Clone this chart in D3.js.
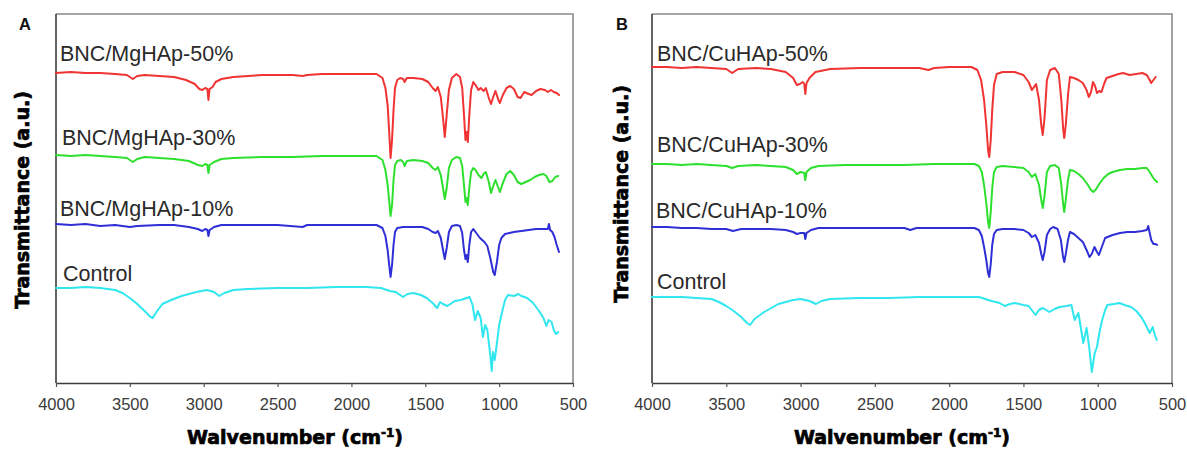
<!DOCTYPE html>
<html>
<head>
<meta charset="utf-8">
<script src="https://cdn.jsdelivr.net/npm/d3@7"></script>
<style>
  html, body { margin: 0; padding: 0; background: #fff; }
  svg { display: block; }
</style>
</head>
<body>
<svg id="chart" width="1187" height="453"></svg>
<script>
// FTIR spectra: [wavenumber (cm-1), transmittance (a.u., curves offset vertically)]
const xTicks = [4000, 3500, 3000, 2500, 2000, 1500, 1000, 500];

// ---- Panel A: BNC/MgHAp composites ----
const mg50 = [[4000,3.10],[3900,3.11],[3800,3.10],[3700,3.10],[3600,3.09],[3520,3.08],[3480,3.04],[3450,3.07],[3400,3.08],[3300,3.07],[3200,3.06],[3120,3.03],[3060,2.99],[3030,2.94],[3010,2.93],[2990,2.95],[2975,2.94],[2968,2.83],[2960,2.94],[2940,2.96],[2920,3.01],[2880,3.04],[2800,3.06],[2700,3.07],[2600,3.08],[2500,3.08],[2400,3.08],[2330,3.07],[2300,3.08],[2200,3.09],[2000,3.09],[1900,3.09],[1830,3.09],[1790,3.05],[1770,2.95],[1755,2.78],[1745,2.53],[1735,2.25],[1725,2.43],[1715,2.73],[1705,2.95],[1690,3.03],[1670,3.05],[1650,3.04],[1640,3.01],[1625,3.05],[1580,3.05],[1520,3.04],[1480,3.01],[1450,2.95],[1430,2.92],[1415,2.96],[1395,2.86],[1380,2.65],[1368,2.46],[1355,2.68],[1340,2.93],[1320,3.05],[1290,3.09],[1265,3.06],[1250,2.95],[1238,2.68],[1228,2.43],[1220,2.51],[1212,2.41],[1202,2.68],[1190,2.93],[1175,3.01],[1160,2.98],[1140,2.93],[1125,2.95],[1105,2.92],[1090,2.95],[1070,2.85],[1055,2.79],[1040,2.86],[1025,2.92],[1005,2.83],[995,2.80],[975,2.88],[950,2.95],[925,2.97],[900,2.94],[875,2.86],[855,2.85],[830,2.91],[800,2.89],[780,2.88],[750,2.92],[720,2.94],[690,2.93],[670,2.91],[650,2.93],[630,2.91],[610,2.90],[595,2.88]];

const mg30 = [[4000,2.28],[3900,2.27],[3800,2.28],[3700,2.27],[3600,2.26],[3520,2.25],[3480,2.21],[3450,2.24],[3400,2.26],[3300,2.25],[3200,2.24],[3100,2.22],[3040,2.18],[3010,2.17],[2990,2.19],[2975,2.18],[2968,2.10],[2960,2.18],[2930,2.21],[2880,2.24],[2800,2.25],[2600,2.26],[2400,2.26],[2200,2.27],[2000,2.27],[1830,2.27],[1790,2.23],[1770,2.13],[1755,1.98],[1745,1.83],[1735,1.67],[1725,1.78],[1715,2.03],[1705,2.18],[1690,2.22],[1665,2.23],[1650,2.21],[1640,2.17],[1625,2.22],[1580,2.23],[1520,2.22],[1480,2.20],[1450,2.15],[1430,2.13],[1415,2.16],[1395,2.08],[1380,1.95],[1368,1.84],[1355,1.95],[1340,2.15],[1320,2.23],[1290,2.26],[1265,2.25],[1250,2.17],[1238,1.98],[1228,1.81],[1220,1.85],[1212,1.78],[1202,1.95],[1190,2.11],[1175,2.15],[1160,2.13],[1140,2.08],[1120,2.05],[1105,2.09],[1090,2.11],[1070,2.01],[1055,1.90],[1040,1.97],[1025,2.03],[1005,1.95],[995,1.91],[975,2.00],[950,2.09],[925,2.12],[900,2.08],[875,2.01],[850,1.99],[820,2.01],[790,2.03],[760,2.06],[730,2.08],[700,2.09],[680,2.07],[660,2.01],[640,2.02],[620,2.06],[600,2.07]];

const mg10 = [[4000,1.59],[3900,1.58],[3800,1.59],[3700,1.57],[3600,1.58],[3500,1.56],[3450,1.57],[3300,1.58],[3200,1.58],[3100,1.56],[3040,1.54],[3010,1.52],[2990,1.54],[2975,1.53],[2968,1.47],[2960,1.53],[2930,1.56],[2880,1.58],[2700,1.58],[2500,1.58],[2330,1.56],[2300,1.58],[2000,1.58],[1830,1.58],[1790,1.55],[1770,1.47],[1755,1.33],[1745,1.19],[1735,1.06],[1725,1.18],[1715,1.38],[1705,1.51],[1690,1.55],[1650,1.56],[1580,1.56],[1520,1.56],[1480,1.54],[1450,1.51],[1430,1.50],[1415,1.52],[1395,1.45],[1380,1.33],[1368,1.24],[1355,1.35],[1340,1.51],[1320,1.57],[1290,1.58],[1265,1.57],[1250,1.50],[1238,1.33],[1228,1.24],[1220,1.28],[1212,1.21],[1202,1.38],[1190,1.51],[1175,1.54],[1160,1.51],[1130,1.45],[1100,1.41],[1080,1.37],[1060,1.25],[1040,1.11],[1030,1.08],[1015,1.21],[1000,1.38],[985,1.45],[960,1.49],[930,1.50],[900,1.51],[850,1.52],[800,1.53],[750,1.54],[700,1.54],[670,1.54],[663,1.59],[655,1.53],[640,1.51],[625,1.46],[610,1.38],[595,1.31]];

const controlA = [[4000,0.95],[3900,0.95],[3800,0.96],[3700,0.95],[3600,0.93],[3550,0.90],[3500,0.85],[3450,0.79],[3400,0.72],[3360,0.66],[3345,0.65],[3320,0.71],[3280,0.79],[3220,0.83],[3150,0.87],[3050,0.91],[2980,0.93],[2930,0.91],[2895,0.87],[2860,0.90],[2800,0.93],[2700,0.94],[2500,0.95],[2300,0.95],[2100,0.96],[1900,0.96],[1800,0.95],[1740,0.92],[1700,0.91],[1650,0.86],[1620,0.89],[1580,0.90],[1530,0.88],[1490,0.85],[1450,0.80],[1420,0.75],[1400,0.81],[1380,0.79],[1350,0.77],[1330,0.79],[1300,0.82],[1260,0.83],[1220,0.85],[1200,0.86],[1180,0.78],[1163,0.63],[1145,0.72],[1125,0.65],[1110,0.46],[1095,0.58],[1080,0.53],[1060,0.28],[1050,0.12],[1042,0.31],[1030,0.23],[1015,0.40],[1000,0.58],[980,0.71],[960,0.83],[940,0.88],[900,0.87],[870,0.89],[850,0.87],[810,0.85],[770,0.80],[730,0.72],[700,0.65],[680,0.57],[665,0.63],[645,0.61],[630,0.53],[615,0.49],[600,0.51]];

// ---- Panel B: BNC/CuHAp composites ----
const cu50 = [[4000,3.16],[3900,3.16],[3800,3.15],[3700,3.16],[3600,3.15],[3500,3.14],[3460,3.10],[3420,3.14],[3300,3.15],[3200,3.14],[3100,3.11],[3050,3.05],[3025,2.98],[3005,2.99],[2985,3.01],[2975,2.99],[2968,2.89],[2960,3.00],[2940,3.05],[2900,3.11],[2800,3.14],[2600,3.15],[2400,3.15],[2200,3.15],[2140,3.13],[2100,3.15],[2000,3.16],[1850,3.16],[1810,3.13],[1785,3.03],[1765,2.83],[1750,2.58],[1738,2.33],[1730,2.26],[1720,2.43],[1710,2.73],[1698,2.98],[1680,3.09],[1640,3.11],[1560,3.11],[1500,3.08],[1465,3.01],[1443,2.93],[1415,2.99],[1395,2.83],[1380,2.58],[1370,2.48],[1358,2.65],[1342,3.03],[1320,3.13],[1288,3.15],[1262,3.09],[1245,2.83],[1232,2.53],[1225,2.45],[1215,2.58],[1200,2.88],[1187,3.06],[1160,3.05],[1130,3.03],[1100,3.00],[1075,2.93],[1060,2.86],[1045,2.91],[1032,3.01],[1018,2.97],[1005,2.90],[990,2.92],[975,2.91],[955,3.00],[940,3.05],[900,3.07],[860,3.09],[830,3.10],[785,3.08],[740,3.09],[700,3.10],[670,3.08],[650,3.03],[640,3.00],[625,3.03],[610,3.06]];

const cu30 = [[4000,2.19],[3900,2.19],[3800,2.18],[3700,2.19],[3600,2.18],[3500,2.17],[3460,2.15],[3420,2.17],[3300,2.18],[3200,2.17],[3100,2.16],[3050,2.13],[3025,2.09],[3000,2.11],[2975,2.10],[2968,2.03],[2960,2.11],[2930,2.15],[2880,2.17],[2700,2.18],[2500,2.18],[2300,2.18],[2100,2.19],[1900,2.19],[1830,2.19],[1800,2.17],[1780,2.11],[1765,1.98],[1750,1.80],[1738,1.61],[1730,1.55],[1720,1.71],[1710,1.95],[1698,2.11],[1680,2.16],[1640,2.17],[1560,2.16],[1500,2.15],[1465,2.11],[1443,2.06],[1420,2.09],[1395,1.98],[1380,1.83],[1370,1.75],[1358,1.87],[1342,2.11],[1320,2.17],[1288,2.18],[1262,2.15],[1245,1.98],[1232,1.78],[1225,1.71],[1215,1.83],[1200,2.03],[1187,2.13],[1160,2.12],[1130,2.09],[1100,2.05],[1070,1.99],[1045,1.93],[1030,1.91],[1010,1.94],[990,1.99],[960,2.05],[930,2.09],[900,2.11],[850,2.13],[800,2.14],[750,2.14],[700,2.15],[670,2.15],[650,2.11],[630,2.06],[615,2.03],[600,2.01]];

const cu10 = [[4000,1.56],[3900,1.56],[3800,1.55],[3700,1.55],[3600,1.54],[3500,1.54],[3455,1.52],[3400,1.54],[3300,1.54],[3200,1.54],[3100,1.53],[3050,1.51],[3025,1.49],[3000,1.50],[2975,1.50],[2968,1.44],[2960,1.50],[2930,1.53],[2880,1.55],[2700,1.55],[2500,1.55],[2300,1.55],[2262,1.53],[2220,1.55],[2000,1.55],[1830,1.55],[1800,1.53],[1780,1.47],[1765,1.36],[1750,1.23],[1738,1.10],[1730,1.06],[1720,1.19],[1710,1.38],[1698,1.49],[1680,1.53],[1640,1.54],[1560,1.54],[1500,1.53],[1465,1.50],[1443,1.46],[1420,1.48],[1395,1.40],[1380,1.29],[1370,1.23],[1358,1.31],[1342,1.48],[1320,1.54],[1300,1.56],[1270,1.54],[1248,1.43],[1234,1.27],[1225,1.21],[1215,1.29],[1200,1.43],[1187,1.51],[1160,1.49],[1130,1.45],[1100,1.41],[1075,1.33],[1055,1.26],[1040,1.29],[1022,1.36],[1005,1.31],[992,1.28],[975,1.35],[950,1.45],[900,1.48],[850,1.50],[800,1.51],[750,1.51],[700,1.52],[670,1.53],[660,1.57],[650,1.50],[640,1.43],[625,1.39],[610,1.39],[600,1.38]];

const controlB = [[4000,0.86],[3900,0.86],[3800,0.86],[3700,0.85],[3600,0.84],[3550,0.81],[3500,0.77],[3450,0.72],[3400,0.66],[3360,0.60],[3340,0.58],[3310,0.64],[3245,0.71],[3150,0.79],[3050,0.83],[3000,0.84],[2940,0.82],[2896,0.79],[2860,0.82],[2800,0.84],[2600,0.85],[2400,0.85],[2200,0.86],[2000,0.86],[1800,0.86],[1714,0.82],[1660,0.80],[1626,0.77],[1590,0.79],[1558,0.80],[1500,0.78],[1465,0.77],[1418,0.68],[1395,0.73],[1370,0.75],[1325,0.71],[1290,0.74],[1257,0.76],[1210,0.77],[1177,0.78],[1155,0.63],[1130,0.70],[1097,0.40],[1075,0.55],[1055,0.33],[1040,0.11],[1020,0.30],[1005,0.36],[985,0.53],[970,0.63],[950,0.73],[935,0.78],[890,0.79],[855,0.80],[820,0.78],[775,0.76],[740,0.72],[707,0.66],[680,0.59],[650,0.50],[630,0.56],[615,0.48],[603,0.43]];

const seriesNamesA = ["BNC/MgHAp-50%", "BNC/MgHAp-30%", "BNC/MgHAp-10%", "Control"];
const seriesNamesB = ["BNC/CuHAp-50%", "BNC/CuHAp-30%", "BNC/CuHAp-10%", "Control"];
const seriesColors = ["#f03333", "#2ee02e", "#2f2fd6", "#30e6ef"];

// ---- layout ----
const svg = d3.select("#chart");
const frameTop = 14, frameBottom = 383;

const panels = [
  { letter: "A", left: 56, right: 573, letterX: 25, yLabelX: 22, yLabelY: 200, xLabelX: 295,
    series: [mg50, mg30, mg10, controlA], names: seriesNamesA,
    labelX: [60, 62, 60, 63], labelY: [61, 145, 216, 281] },
  { letter: "B", left: 652, right: 1172, letterX: 622, yLabelX: 621, yLabelY: 194, xLabelX: 902,
    series: [cu50, cu30, cu10, controlB], names: seriesNamesB,
    labelX: [657, 657, 656, 657], labelY: [61, 152, 218, 289] }
];

panels.forEach(p => {
  const g = svg.append("g");
  const x = d3.scaleLinear().domain([4000, 500]).range([p.left, p.right]);
  const y = d3.scaleLinear().domain([0, 3.69]).range([frameBottom, frameTop]);

  // frame: lighter top/right edges
  g.append("path")
    .attr("d", `M${p.left},${frameTop}H${p.right}V${frameBottom}`)
    .attr("fill", "none").attr("stroke", "#8a8a8a").attr("stroke-width", 1.6);
  g.append("line")
    .attr("x1", p.left).attr("x2", p.left).attr("y1", frameTop).attr("y2", frameBottom)
    .attr("stroke", "#3c3c3c").attr("stroke-width", 1.6);

  // bottom axis
  const axis = d3.axisBottom(x).tickValues(xTicks).tickSize(4).tickSizeOuter(0).tickFormat(d3.format("d"));
  const ax = g.append("g").attr("transform", `translate(0,${frameBottom})`).call(axis);
  ax.select(".domain").attr("stroke", "#3c3c3c").attr("stroke-width", 1.6);
  ax.selectAll(".tick line").attr("stroke", "#555").attr("stroke-width", 1.2);
  ax.selectAll(".tick text")
    .attr("y", 15).attr("dy", "0.71em")
    .attr("fill", "#3a3a3a")
    .style("font-family", "'Liberation Sans', Arial, sans-serif")
    .style("font-size", "16.5px");

  // spectra
  const line = d3.line().x(d => x(d[0])).y(d => y(d[1]));
  p.series.forEach((s, i) => {
    g.append("path")
      .datum(s)
      .attr("d", line)
      .attr("fill", "none")
      .attr("stroke", seriesColors[i])
      .attr("stroke-width", 2)
      .attr("stroke-linejoin", "round")
      .attr("stroke-linecap", "round");
    g.append("text")
      .attr("x", p.labelX[i]).attr("y", p.labelY[i])
      .attr("fill", "#2a2a2a")
      .style("font-family", "'Liberation Sans', Arial, sans-serif")
      .style("font-size", "21.5px")
      .text(p.names[i]);
  });

  // panel letter
  g.append("text")
    .attr("x", p.letterX).attr("y", 30)
    .attr("text-anchor", "middle")
    .attr("fill", "#111")
    .style("font-family", "'Liberation Sans', Arial, sans-serif")
    .style("font-weight", "bold")
    .style("font-size", "16.5px")
    .text(p.letter);

  // y axis title
  g.append("text")
    .attr("transform", `translate(${p.yLabelX},${p.yLabelY}) rotate(-90)`)
    .attr("text-anchor", "middle")
    .attr("dy", "0.35em")
    .attr("fill", "#000").attr("stroke", "#000").attr("stroke-width", 0.7)
    .style("font-family", "'DejaVu Sans', sans-serif")
    .style("font-weight", "bold")
    .style("font-size", "19px")
    .text("Transmittance (a.u.)");

  // x axis title
  const xt = g.append("text")
    .attr("x", p.xLabelX).attr("y", 444)
    .attr("text-anchor", "middle")
    .attr("fill", "#000").attr("stroke", "#000").attr("stroke-width", 0.7)
    .style("font-family", "'DejaVu Sans', sans-serif")
    .style("font-weight", "bold")
    .style("font-size", "19px");
  xt.append("tspan").text("Walvenumber (cm");
  xt.append("tspan").attr("dy", -7).style("font-size", "12px").text("-1");
  xt.append("tspan").attr("dy", 7).text(")");
});
</script>
</body>
</html>
